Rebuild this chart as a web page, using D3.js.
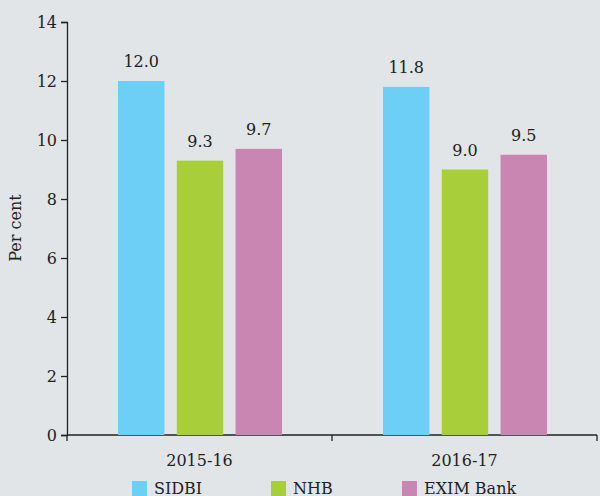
<!DOCTYPE html>
<html>
<head>
<meta charset="utf-8">
<script src="https://cdn.jsdelivr.net/npm/d3@7"></script>
<style>
  body { margin: 0; background: #e1e5e8; }
  text { font-family: "DejaVu Serif", serif; fill: #222; }
</style>
</head>
<body>
<div id="chart"></div>
<script>
var years = ["2015-16", "2016-17"];
var banks = ["SIDBI", "NHB", "EXIM Bank"];
var sidbi = [12.0, 11.8];
var nhb = [9.3, 9.0];
var exim = [9.7, 9.5];
var yTicks = [0, 2, 4, 6, 8, 10, 12, 14];
var colorList = ["#6dcff6", "#a8cf3a", "#c986b2"];

var series = [sidbi, nhb, exim];

var svg = d3.select("#chart").append("svg")
  .attr("width", 600)
  .attr("height", 496);

var x = d3.scaleBand().domain(years).range([67, 597]).paddingInner(0).paddingOuter(0);
var inner = d3.scaleBand().domain(banks).range([51, 215]).paddingInner(0.21).paddingOuter(0);
var y = d3.scaleLinear().domain([0, 14]).range([435, 22]);
var color = d3.scaleOrdinal().domain(banks).range(colorList);

// y axis
var yAxis = svg.append("g")
  .attr("transform", "translate(67,0)")
  .call(d3.axisLeft(y).tickValues(yTicks).tickSize(6).tickPadding(4).tickFormat(d3.format("d")));
yAxis.selectAll("text").style("font-size", "16px");
yAxis.selectAll("line, path").attr("stroke", "#222").attr("stroke-width", 1.3);

// x axis (ticks at band edges)
var xAxis = svg.append("g").attr("transform", "translate(0,435)");
xAxis.append("line").attr("x1", 67).attr("x2", 597).attr("stroke", "#222").attr("stroke-width", 1.3);
xAxis.selectAll(".tk").data(years.concat(["end"])).enter().append("line")
  .attr("x1", function(d, i) { return i < years.length ? x(d) : x.range()[1]; })
  .attr("x2", function(d, i) { return i < years.length ? x(d) : x.range()[1]; })
  .attr("y1", 0).attr("y2", 6)
  .attr("stroke", "#222").attr("stroke-width", 1.3);
xAxis.selectAll(".lbl").data(years).enter().append("text")
  .attr("x", function(d) { return x(d) + x.bandwidth() / 2; })
  .attr("y", 31)
  .attr("text-anchor", "middle")
  .style("font-size", "16px")
  .text(function(d) { return d; });

// axis title
svg.append("text")
  .attr("transform", "translate(21,228) rotate(-90)")
  .attr("text-anchor", "middle")
  .style("font-size", "16px")
  .text("Per cent");

// bars
banks.forEach(function(b, j) {
  var g = svg.append("g");
  g.selectAll("rect").data(years).enter().append("rect")
    .attr("x", function(d) { return x(d) + inner(b); })
    .attr("y", function(d, i) { return y(series[j][i]); })
    .attr("width", inner.bandwidth())
    .attr("height", function(d, i) { return y(0) - y(series[j][i]); })
    .attr("fill", color(b));
  g.selectAll("text").data(years).enter().append("text")
    .attr("x", function(d) { return x(d) + inner(b) + inner.bandwidth() / 2; })
    .attr("y", function(d, i) { return y(series[j][i]) - 14; })
    .attr("text-anchor", "middle")
    .style("font-size", "16px")
    .text(function(d, i) { return series[j][i].toFixed(1); });
});

// legend
var legX = [132, 271, 402];
var leg = svg.selectAll(".leg").data(banks).enter().append("g")
  .attr("transform", function(d, i) { return "translate(" + legX[i] + ",481)"; });
leg.append("rect").attr("width", 15).attr("height", 15).attr("fill", function(d) { return color(d); });
leg.append("text").attr("x", 22).attr("y", 13).style("font-size", "16px").text(function(d) { return d; });
</script>
</body>
</html>
